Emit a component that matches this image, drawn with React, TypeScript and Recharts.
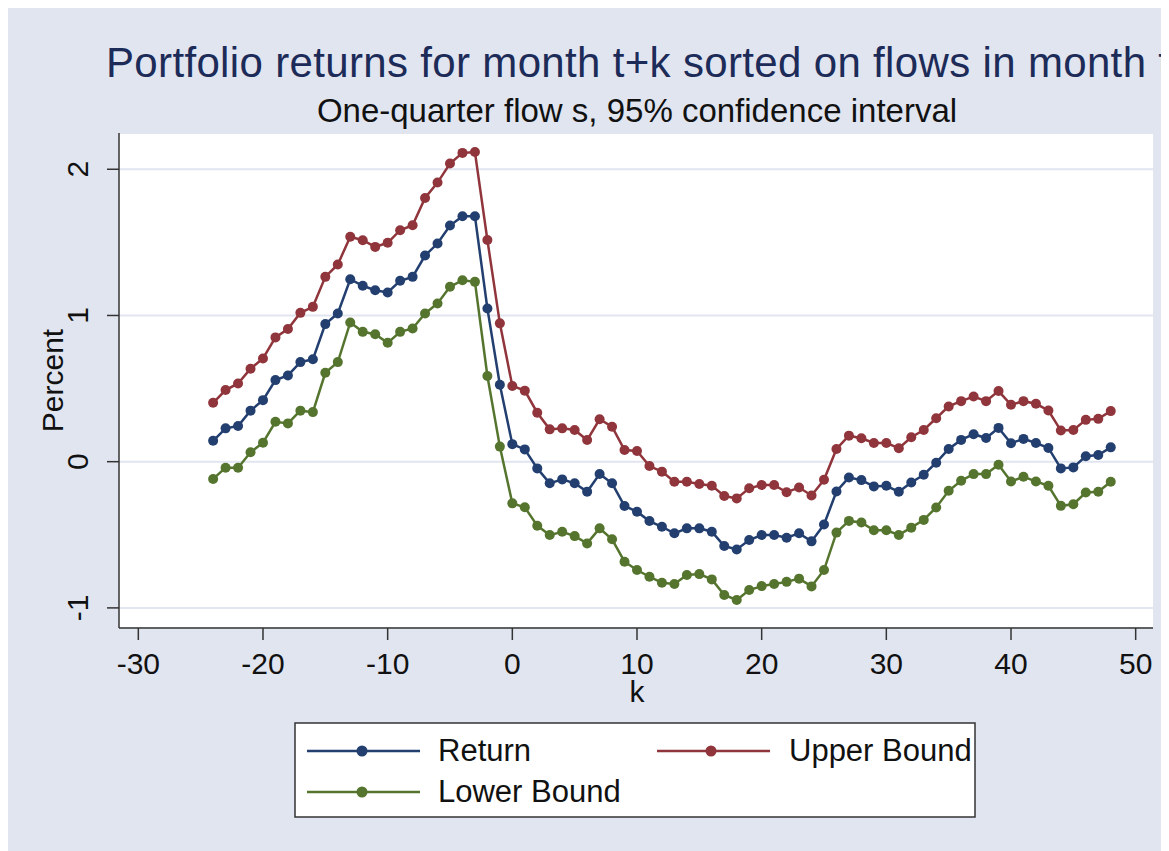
import React from "react";
import { LineChart, Line, XAxis, YAxis, CartesianGrid } from "recharts";

const K = [
  -24, -23, -22, -21, -20, -19, -18, -17, -16, -15, -14, -13, -12, -11, -10, -9, -8, -7, -6, -5, -4, -3, -2, -1, 0,
  1, 2, 3, 4, 5, 6, 7, 8, 9, 10, 11, 12, 13, 14, 15, 16, 17, 18, 19, 20, 21, 22, 23, 24, 25,
  26, 27, 28, 29, 30, 31, 32, 33, 34, 35, 36, 37, 38, 39, 40, 41, 42, 43, 44, 45, 46, 47, 48,
];

const RETURN = [
  0.143, 0.228, 0.244, 0.349, 0.421, 0.558, 0.59, 0.681, 0.7, 0.941, 1.014, 1.248, 1.203, 1.173, 1.157, 1.237, 1.264, 1.41, 1.492, 1.615, 1.679, 1.679, 1.048, 0.526, 0.12,
  0.084, -0.046, -0.148, -0.121, -0.148, -0.205, -0.084, -0.148, -0.303, -0.342, -0.406, -0.445, -0.49, -0.456, -0.456, -0.479, -0.577, -0.6, -0.536, -0.502, -0.502, -0.52, -0.49, -0.545, -0.43,
  -0.204, -0.108, -0.126, -0.169, -0.165, -0.206, -0.142, -0.089, -0.007, 0.087, 0.149, 0.188, 0.162, 0.231, 0.126, 0.156, 0.128, 0.094, -0.046, -0.039, 0.037, 0.046, 0.098,
];

const UPPER = [
  0.403, 0.49, 0.535, 0.636, 0.706, 0.85, 0.907, 1.018, 1.059, 1.264, 1.349, 1.538, 1.515, 1.469, 1.497, 1.583, 1.617, 1.804, 1.909, 2.039, 2.112, 2.118, 1.516, 0.946, 0.518,
  0.486, 0.335, 0.221, 0.228, 0.217, 0.148, 0.29, 0.239, 0.08, 0.073, -0.03, -0.068, -0.137, -0.137, -0.153, -0.164, -0.235, -0.251, -0.182, -0.16, -0.16, -0.209, -0.177, -0.231, -0.124,
  0.087, 0.178, 0.16, 0.128, 0.128, 0.092, 0.167, 0.217, 0.297, 0.378, 0.414, 0.446, 0.414, 0.483, 0.389, 0.414, 0.396, 0.35, 0.213, 0.217, 0.286, 0.293, 0.346,
];

const LOWER = [
  -0.118, -0.041, -0.041, 0.064, 0.13, 0.273, 0.262, 0.349, 0.339, 0.608, 0.681, 0.952, 0.888, 0.872, 0.813, 0.888, 0.911, 1.014, 1.082, 1.196, 1.241, 1.23, 0.586, 0.103, -0.285,
  -0.312, -0.438, -0.502, -0.479, -0.509, -0.559, -0.456, -0.531, -0.684, -0.741, -0.787, -0.828, -0.837, -0.775, -0.769, -0.805, -0.912, -0.946, -0.878, -0.851, -0.837, -0.822, -0.8, -0.853, -0.741,
  -0.485, -0.405, -0.416, -0.469, -0.469, -0.501, -0.451, -0.398, -0.313, -0.199, -0.13, -0.085, -0.085, -0.021, -0.135, -0.103, -0.135, -0.165, -0.302, -0.291, -0.211, -0.206, -0.137,
];

const X_TICKS = [-30, -20, -10, 0, 10, 20, 30, 40, 50];
const Y_TICKS = [-1, 0, 1, 2];

const TITLE = "Portfolio returns for month t+k sorted on flows in month t";
const SUBTITLE = "One-quarter flow s, 95% confidence interval";
const X_LABEL = "k";
const Y_LABEL = "Percent";

const SERIES = [
  { key: "ret", name: "Return", color: "#233f70" },
  { key: "upper", name: "Upper Bound", color: "#90353b" },
  { key: "lower", name: "Lower Bound", color: "#55752f" },
];

const data = K.map((k, i) => ({ k, ret: RETURN[i], upper: UPPER[i], lower: LOWER[i] }));

const FONT = "'Liberation Sans', Arial, Helvetica, sans-serif";
const BG = "#e1e5f0";
const W = 1161;
const H = 843;

const XTick = (props: any) => {
  const { x, y, payload } = props;
  return (
    <text x={x} y={y + 32} textAnchor="middle" fontSize={30} fill="#111" fontFamily={FONT}>
      {payload.value}
    </text>
  );
};

const YTick = (props: any) => {
  const { x, y, payload } = props;
  const bx = x - 17;
  return (
    <text
      x={bx}
      y={y}
      textAnchor="middle"
      fontSize={30}
      fill="#111"
      fontFamily={FONT}
      transform={`rotate(-90, ${bx}, ${y})`}
    >
      {payload.value}
    </text>
  );
};

const XLabel = (props: any) => {
  const vb = props.viewBox || {};
  return (
    <text x={vb.x + vb.width / 2 + 1} y={vb.y + 74} textAnchor="middle" fontSize={30} fill="#111" fontFamily={FONT}>
      {X_LABEL}
    </text>
  );
};

const YLabel = (props: any) => {
  const vb = props.viewBox || {};
  const cx = 55;
  const cy = vb.y + vb.height / 2;
  return (
    <text x={cx} y={cy} textAnchor="middle" fontSize={30} fill="#111" fontFamily={FONT} transform={`rotate(-90, ${cx}, ${cy})`}>
      {Y_LABEL}
    </text>
  );
};

const LEGEND_COLS = [
  { lineX1: 299, lineX2: 412, markX: 354, textX: 430 },
  { lineX1: 649, lineX2: 762, markX: 703, textX: 781 },
];
const LEGEND_ROWS = [743, 784];

const Overlay = () => (
  <svg width={W} height={H} style={{ position: "absolute", left: 0, top: 0, pointerEvents: "none" }}>
    <text x={98} y={69} fontSize={42} fill="#1c2b58" fontFamily={FONT} textLength={1064} lengthAdjust="spacing">
      {TITLE}
    </text>
    <text x={629} y={114} fontSize={33} textAnchor="middle" fill="#111" fontFamily={FONT}>
      {SUBTITLE}
    </text>
    <rect x={287} y={715} width={680} height={94} fill="#fff" stroke="#333" strokeWidth={1.5} />
    {SERIES.map((s, i) => {
      const col = LEGEND_COLS[i % 2];
      const rowY = LEGEND_ROWS[Math.floor(i / 2)];
      return (
        <g key={s.key}>
          <line x1={col.lineX1} x2={col.lineX2} y1={rowY} y2={rowY} stroke={s.color} strokeWidth={2.5} />
          <circle cx={col.markX} cy={rowY} r={5.5} fill={s.color} />
          <text x={col.textX} y={rowY + 10} fontSize={31} fill="#111" fontFamily={FONT}>
            {s.name}
          </text>
        </g>
      );
    })}
  </svg>
);

export default function App() {
  const xH = 80;
  return (
    <div style={{ position: "relative", width: W, height: H, background: BG, fontFamily: FONT, overflow: "hidden" }}>
      <LineChart width={W} height={H} data={data} margin={{ top: 125, right: 16, bottom: 223 - xH, left: 0 }}>
        <CartesianGrid vertical={false} fill="#ffffff" stroke={BG} strokeWidth={2} />
        <XAxis
          dataKey="k"
          type="number"
          domain={[-31.55, 51.39]}
          ticks={X_TICKS}
          allowDataOverflow
          height={xH}
          tickSize={12}
          tickLine={{ stroke: "#333", strokeWidth: 1.5 }}
          axisLine={{ stroke: "#333", strokeWidth: 1.5 }}
          tick={<XTick />}
          label={<XLabel />}
        />
        <YAxis
          type="number"
          domain={[-1.1375, 2.248]}
          ticks={Y_TICKS}
          allowDataOverflow
          width={111}
          tickSize={12}
          tickLine={{ stroke: "#333", strokeWidth: 1.5 }}
          axisLine={{ stroke: "#333", strokeWidth: 1.5 }}
          tick={<YTick />}
          label={<YLabel />}
        />
        {SERIES.map((s) => (
          <Line
            key={s.key}
            type="linear"
            dataKey={s.key}
            name={s.name}
            stroke={s.color}
            strokeWidth={2.5}
            dot={{ r: 5, fill: s.color, stroke: "none" }}
            isAnimationActive={false}
          />
        ))}
      </LineChart>
      <Overlay />
    </div>
  );
}
